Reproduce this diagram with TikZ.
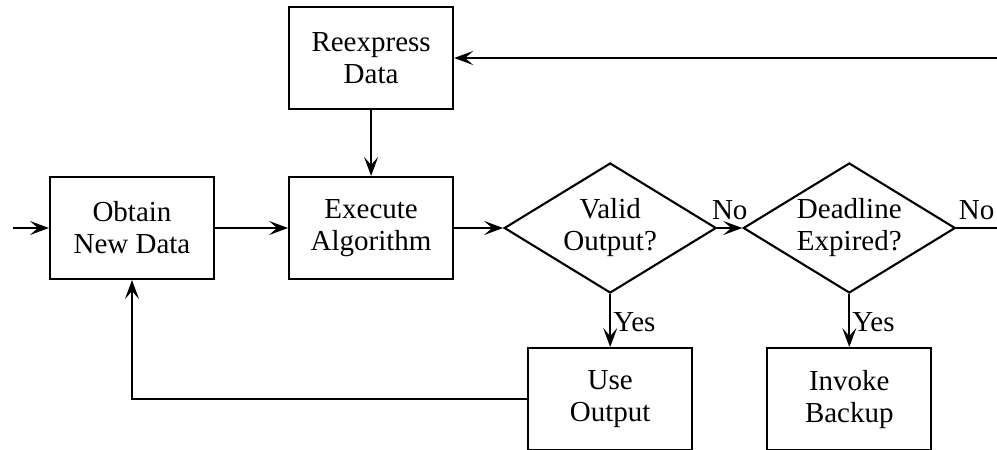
\documentclass[tikz,border=0pt]{standalone}
\usepackage{fontspec}
\setmainfont{Liberation Serif}
\usepackage{tikz}
\usetikzlibrary{shapes.geometric, arrows.meta, positioning}

\begin{document}
\begin{tikzpicture}[x=1pt, y=1pt, font=\fontsize{29}{32}\selectfont, line width=2.1pt,
  >={Stealth[length=19pt, width=14pt, inset=8pt]}]
\tikzstyle{process} = [rectangle, draw, minimum width=164pt, minimum height=102pt, inner sep=0pt, align=center]
\tikzstyle{decision} = [diamond, draw, aspect=1.63, minimum width=212pt, minimum height=130pt, inner sep=0pt, align=center]
\tikzstyle{answer} = [inner sep=2pt]

\useasboundingbox (0,0) rectangle (997,-450);

\node (obtain) [process] at (132,-228) {Obtain\\New Data};
\node (execute) [process, right=73pt of obtain] {Execute\\Algorithm};
\node (reexpress) [process, above=66pt of execute] {Reexpress\\Data};
\node (valid) [decision, right=49pt of execute] {Valid\\Output?};
\node (deadline) [decision, right=25pt of valid] {Deadline\\Expired?};
\node (use) [process, below=53pt of valid] {Use\\Output};
\node (backup) [process, below=53pt of deadline] {Invoke\\Backup};

\coordinate (start) at (13,-228);
\coordinate (exitno) at (997,-228);
\coordinate (loopin) at (997,-58);

% main row
\draw[->] (start) -- (obtain);
\draw[->] (obtain) -- (execute);
\draw[->] (reexpress) -- (execute);
\draw[->] (execute) -- (valid);
\draw[->] (valid) -- node[answer, above, yshift=5pt] {No} (deadline);
\draw (deadline.east) -- node[answer, above, yshift=5pt] {No} (exitno);
\draw[->] (loopin) -- (reexpress.east |- loopin);

% yes branches
\draw[->] (valid) -- node[answer, right, yshift=-2pt] {Yes} (use);
\draw[->] (deadline) -- node[answer, right, yshift=-2pt] {Yes} (backup);

% feedback
\draw[->] (use.west) -| (obtain.south);
\end{tikzpicture}
\end{document}
